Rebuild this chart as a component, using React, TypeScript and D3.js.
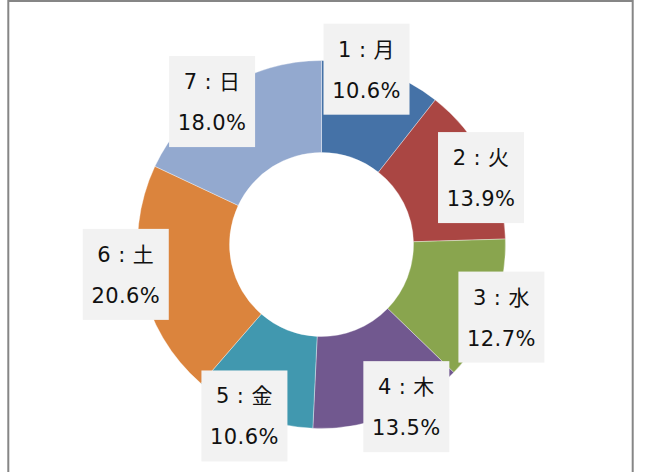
import React from "react";
import * as d3 from "d3";

const categories = ["1：月", "2：火", "3：水", "4：木", "5：金", "6：土", "7：日"];
const labelNames = ["1 : 月", "2 : 火", "3 : 水", "4 : 木", "5 : 金", "6 : 土", "7 : 日"];
const values = [10.6, 13.9, 12.7, 13.5, 10.6, 20.6, 18.0];
const colors = ["#4572A7", "#AA4643", "#89A54E", "#71588F", "#4198AF", "#DB843D", "#93A9CF"];
// layout tweaks for label placement (degrees / px), mimicking Excel best-fit
const labelAngleNudge = [-4.7, 4, 0.8, -6, 2.4, 3.3, -5];
const labelRadius = [181, 173, 194, 183, 188, 198, 180];

const W = 649;
const H = 472;
const cx = 321.5;
const cy = 244.5;
const outerR = 184;
const innerR = 92;
const boxW = 86;
const boxH = 91;

export default function App() {
  const pie = d3.pie<number>().sort(null).value((d) => d)(values);
  const arc = d3.arc<d3.PieArcDatum<number>>().innerRadius(innerR).outerRadius(outerR);
  return (
    <svg
      width={W}
      height={H}
      style={{ position: "fixed", left: 0, top: 0, background: "#fff" }}
      fontFamily="'DejaVu Sans', 'Noto Sans CJK JP', sans-serif"
    >
      <rect x={0} y={0} width={W} height={H} fill="#fff" />
      <rect x={8.3} y={1} width={624.4} height={520} fill="#fff" stroke="#868686" strokeWidth={2} />
      <g transform={`translate(${cx},${cy})`}>
        {pie.map((p, i) => (
          <path key={categories[i]} d={arc(p) || ""} fill={colors[i]} stroke="#ffffff" strokeOpacity={0.6} strokeWidth={0.6} />
        ))}
        {pie.map((p, i) => {
          const mid = (p.startAngle + p.endAngle) / 2 + (labelAngleNudge[i] * Math.PI) / 180;
          const r = labelRadius[i];
          const x = Math.sin(mid) * r;
          const y = -Math.cos(mid) * r;
          return (
            <g key={"l" + i} transform={`translate(${x - boxW / 2},${y - boxH / 2})`}>
              <rect width={boxW} height={boxH} fill="#F2F2F2" />
              <text x={boxW / 2} y={33} textAnchor="middle" fontSize={21} letterSpacing={0.4} fill="#111">
                {labelNames[i]}
              </text>
              <text x={boxW / 2} y={74} textAnchor="middle" fontSize={21} letterSpacing={0.4} fill="#111">
                {values[i].toFixed(1) + "%"}
              </text>
            </g>
          );
        })}
      </g>
    </svg>
  );
}
